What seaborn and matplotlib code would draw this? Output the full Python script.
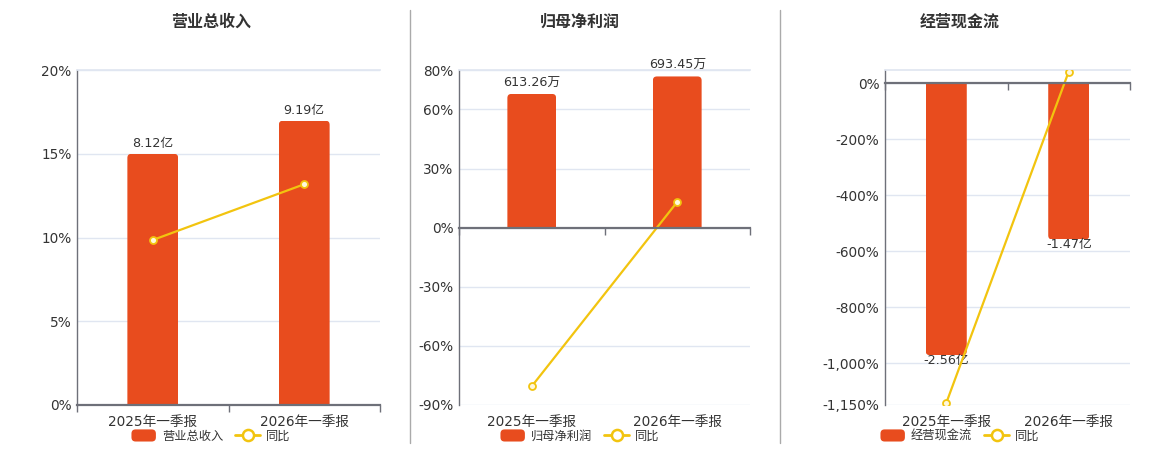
import numpy as np
import pandas as pd
import seaborn as sns
import matplotlib.pyplot as plt
from matplotlib.lines import Line2D
from matplotlib.patches import Patch, FancyBboxPatch
from matplotlib.legend_handler import HandlerPatch
from matplotlib.ticker import FuncFormatter, FixedLocator

# data
periods = ['2025年一季报', '2026年一季报']
titles = ['营业总收入', '归母净利润', '经营现金流']
bar_values = [[8.12, 9.19], [613.26, 693.45], [-2.56, -1.47]]
bar_labels = [['8.12亿', '9.19亿'], ['613.26万', '693.45万'], ['-2.56亿', '-1.47亿']]
yoy = [[9.85, 13.18], [-80.5, 13.08], [-1143.0, 42.58]]
pct_ticks = [[0, 5, 10, 15, 20],
             [-90, -60, -30, 0, 30, 60, 80],
             [-1150, -1000, -800, -600, -400, -200, 0]]
pct_lims = [(0, 20), (-90, 80), (-1150, 48)]
bar_lims = [(0, 10.83), (-813, 723), (-3.03, 0.127)]

BAR_COLOR = '#E84C1E'
LINE_COLOR = '#F2C40F'
AXIS_COLOR = '#6E7079'
GRID_COLOR = '#E0E6F1'
TEXT_COLOR = '#333333'

W, H = 1160, 450
panel_x = [(77, 380), (459, 750), (885, 1130)]
center_x = [211, 580, 960]
PLOT_TOP, PLOT_BOTTOM = 70, 405
RADIUS_PX = 4


def round_bar_ends(ax, container, width_px, height_px):
    # swap each bar for a rounded box, clipped by the bar so the base stays square
    x0, x1 = ax.get_xlim()
    y0, y1 = ax.get_ylim()
    xupp = (x1 - x0) / width_px
    yupp = (y1 - y0) / height_px
    ry = RADIUS_PX * yupp
    for bar in container.patches:
        x, y = bar.get_x(), bar.get_y()
        w, h = bar.get_width(), bar.get_height()
        lo, hi = min(y, y + h), max(y, y + h)
        if h >= 0:
            lo -= ry
        else:
            hi += ry
        rounded = FancyBboxPatch((x, lo), w, hi - lo,
                                 boxstyle='round,pad=0,rounding_size=%f' % (RADIUS_PX * xupp),
                                 mutation_aspect=yupp / xupp,
                                 facecolor=bar.get_facecolor(), edgecolor='none', linewidth=0)
        ax.add_patch(rounded)
        rounded.set_clip_path(bar)
        bar.set_visible(False)


def rounded_handle(legend, orig_handle, xdescent, ydescent, width, height, fontsize):
    return FancyBboxPatch((-xdescent, -ydescent), width, height,
                          boxstyle='round,pad=0,rounding_size=3')


sns.set_theme(style='white')
plt.rcParams['font.family'] = ['DejaVu Sans', 'Noto Sans CJK SC']

fig = plt.figure(figsize=(W / 100, H / 100), dpi=100)

for i in range(3):
    l, r = panel_x[i]
    rect = [l / W, (H - PLOT_BOTTOM) / H, (r - l) / W, (PLOT_BOTTOM - PLOT_TOP) / H]
    ax = fig.add_axes(rect, label='bg%d' % i)
    ax_bar = fig.add_axes(rect, label='bar%d' % i)
    ax_line = fig.add_axes(rect, label='line%d' % i)

    # background: grid, y labels, category labels
    ax.set_xlim(-0.5, 1.5)
    ax.set_ylim(*pct_lims[i])
    ax.yaxis.set_major_locator(FixedLocator(pct_ticks[i]))
    ax.yaxis.set_major_formatter(FuncFormatter(lambda v, _: '{:,.0f}%'.format(v)))
    ax.set_xticks([0, 1], periods)
    ax.grid(axis='y', color=GRID_COLOR, lw=1)
    ax.tick_params(axis='y', length=0, pad=4, labelsize=9.8, labelcolor=TEXT_COLOR)
    ax.tick_params(axis='x', length=0, pad=7, labelsize=9.8, labelcolor=TEXT_COLOR)
    for side in ['right', 'bottom']:
        ax.spines[side].set_visible(False)
    ax.spines['top'].set_color(GRID_COLOR)
    ax.spines['left'].set_color(AXIS_COLOR)
    ax.spines['left'].set_linewidth(1)

    # bars on their own scale
    df_bar = pd.DataFrame({'period': periods, 'value': bar_values[i]})
    sns.barplot(data=df_bar, x='period', y='value', ax=ax_bar, color=BAR_COLOR,
                width=0.335, saturation=1)
    ax_bar.set_xlim(-0.5, 1.5)
    ax_bar.set_ylim(*bar_lims[i])
    pad = 3 if bar_values[i][0] > 0 else -1
    ax_bar.bar_label(ax_bar.containers[0], labels=bar_labels[i], padding=pad,
                     fontsize=9.2, color=TEXT_COLOR)
    round_bar_ends(ax_bar, ax_bar.containers[0], r - l, PLOT_BOTTOM - PLOT_TOP)
    ax_bar.axis('off')

    # yoy line on the percent scale
    df_line = pd.DataFrame({'period': periods, 'yoy': yoy[i]})
    sns.lineplot(data=df_line, x='period', y='yoy', ax=ax_line, sort=False,
                 color=LINE_COLOR, lw=1.6, marker='o', markersize=5,
                 markerfacecolor='#FFF8DC', markeredgecolor=LINE_COLOR, markeredgewidth=1.3)
    ax_line.set_xlim(-0.5, 1.5)
    ax_line.set_ylim(*pct_lims[i])
    ax_line.patch.set_visible(False)
    ax_line.yaxis.set_visible(False)
    ax_line.set_xlabel('')
    ax_line.set_ylabel('')
    for side in ['left', 'right', 'top']:
        ax_line.spines[side].set_visible(False)
    ax_line.spines['bottom'].set_position(('data', 0))
    ax_line.spines['bottom'].set_color(AXIS_COLOR)
    ax_line.spines['bottom'].set_linewidth(1.6)
    ax_line.set_xticks([0, 1], ['', ''])
    ax_line.xaxis.set_minor_locator(FixedLocator([-0.5, 0.5, 1.5]))
    ax_line.tick_params(axis='x', which='major', length=0)
    ax_line.tick_params(axis='x', which='minor', length=5, width=1, color=AXIS_COLOR,
                        direction='out', bottom=True)

    fig.text(center_x[i] / W, (H - 22) / H, titles[i], ha='center', va='center',
             fontsize=11.5, fontweight='bold', color=TEXT_COLOR)

    handles = [Patch(facecolor=BAR_COLOR, edgecolor='none', label=titles[i]),
               Line2D([], [], color=LINE_COLOR, lw=2, marker='o', markersize=8,
                      markerfacecolor='white', markeredgecolor=LINE_COLOR,
                      markeredgewidth=1.8, label='同比')]
    leg = fig.legend(handles=handles, loc='center', bbox_to_anchor=(center_x[i] / W, (H - 436) / H),
                     ncol=2, frameon=False, fontsize=8.8, handlelength=2.0, handleheight=1.15,
                     handletextpad=0.5, columnspacing=1.0,
                     handler_map={Patch: HandlerPatch(patch_func=rounded_handle)})
    for t in leg.get_texts():
        t.set_color(TEXT_COLOR)

# panel separators
for sx in [410, 780]:
    fig.add_artist(Line2D([sx / W, sx / W], [(H - 443) / H, (H - 10) / H],
                          transform=fig.transFigure, color='#AAAAAA', lw=1))

fig.savefig('out.png', dpi=100)
